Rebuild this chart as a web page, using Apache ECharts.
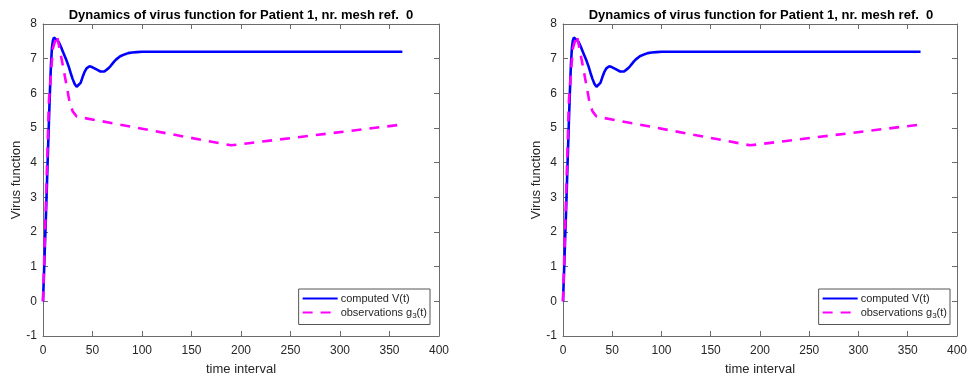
<!DOCTYPE html>
<html>
<head>
<meta charset="utf-8">
<script src="https://cdn.jsdelivr.net/npm/echarts@6/dist/echarts.min.js"></script>
<style>
  html, body { margin: 0; padding: 0; background: #fff; }
  #chart { width: 970px; height: 381px; }
</style>
</head>
<body>
<div id="chart"></div>
<script>
// Computed virus function V(t)
const timeComputed = [0, 1, 2, 3, 4, 5, 6, 7, 8, 9, 10, 11, 12, 13, 14,
  16, 18, 20, 22, 24, 26, 28, 30, 32, 34,
  35, 36, 38, 40, 42, 44, 46, 47, 48, 50,
  52, 54, 56, 58, 60, 62, 64, 66, 68, 70,
  72, 74, 76, 78, 80, 83, 86, 90, 95, 100, 363];
const virusComputed = [0, 0.8, 1.65, 2.5, 3.4, 4.3, 5.2, 6.05, 6.8, 7.3, 7.52, 7.61, 7.63, 7.6, 7.54,
  7.47, 7.35, 7.21, 7.07, 6.93, 6.77, 6.58, 6.41, 6.27, 6.19,
  6.17, 6.18, 6.3, 6.47, 6.62, 6.72, 6.77, 6.78, 6.77, 6.75,
  6.72, 6.69, 6.65, 6.63, 6.62, 6.63, 6.67, 6.72, 6.78, 6.85,
  6.92, 6.98, 7.03, 7.07, 7.1, 7.13, 7.16, 7.18, 7.19, 7.2, 7.2];

// Observations g3(t)
const timeObserved = [0, 6, 10, 14, 19, 24, 27, 30, 34, 190, 363];
const virusObserved = [0, 5.8, 7.3, 7.68, 6.96, 6.2, 5.72, 5.48, 5.33, 4.5, 5.1];

const xRange = { min: 0, max: 400, interval: 50 };
const yRange = { min: -1, max: 8, interval: 1 };

const titleText = 'Dynamics of virus function for Patient 1, nr. mesh ref.  0';
const xName = 'time interval';
const yName = 'Virus function';
const nameComputed = 'computed V(t)';
const nameObserved = 'observations g3(t)';

const FONT = '"Liberation Sans", Arial, Helvetica, sans-serif';
const TEXT = '#262626';
const LINE = '#6b6b6b';

const grids = [
  { left: 43, top: 24, width: 396, height: 312 },
  { left: 563, top: 24, width: 396, height: 312 }
];

const pairs = (xs, ys) => xs.map((x, i) => [x, ys[i]]);

const option = {
  animation: false,
  backgroundColor: '#fff',
  textStyle: { fontFamily: FONT },
  title: [], grid: grids, xAxis: [], yAxis: [], legend: [], series: []
};

grids.forEach((g, k) => {
  option.title.push({
    text: titleText,
    left: g.left + g.width / 2,
    top: 9,
    padding: 0,
    textAlign: 'center',
    textStyle: { fontFamily: FONT, fontSize: 13, fontWeight: 'bold', color: '#000' }
  });

  const tick = { show: true, inside: true, length: 5, lineStyle: { color: LINE, width: 1 } };
  const line = { show: true, onZero: false, lineStyle: { color: LINE, width: 1 } };

  // bottom + top x axes
  option.xAxis.push({
    type: 'value', gridIndex: k, position: 'bottom', ...xRange,
    axisLine: line, axisTick: tick, splitLine: { show: false },
    axisLabel: { color: TEXT, fontSize: 12, fontFamily: FONT, margin: 9 },
    name: xName, nameLocation: 'middle', nameGap: 27,
    nameTextStyle: { color: TEXT, fontSize: 13, fontFamily: FONT }
  });
  option.xAxis.push({
    type: 'value', gridIndex: k, position: 'top', ...xRange,
    axisLine: line, axisTick: tick, splitLine: { show: false },
    axisLabel: { show: false }
  });
  // left + right y axes
  option.yAxis.push({
    type: 'value', gridIndex: k, position: 'left', ...yRange,
    axisLine: line, axisTick: tick, splitLine: { show: false },
    axisLabel: { color: TEXT, fontSize: 12, fontFamily: FONT, margin: 6 },
    name: yName, nameLocation: 'middle', nameGap: 20,
    nameTextStyle: { color: TEXT, fontSize: 13, fontFamily: FONT }
  });
  option.yAxis.push({
    type: 'value', gridIndex: k, position: 'right', ...yRange,
    axisLine: line, axisTick: tick, splitLine: { show: false },
    axisLabel: { show: false }
  });

  option.series.push({
    name: nameComputed, type: 'line',
    xAxisIndex: 2 * k, yAxisIndex: 2 * k,
    data: pairs(timeComputed, virusComputed),
    showSymbol: false, symbol: 'none',
    lineStyle: { color: '#0000ff', width: 2.6 },
    itemStyle: { color: '#0000ff' },
    z: 2
  });
  option.series.push({
    name: nameObserved, type: 'line',
    xAxisIndex: 2 * k, yAxisIndex: 2 * k,
    data: pairs(timeObserved, virusObserved),
    showSymbol: false, symbol: 'none',
    lineStyle: { color: '#ff00ff', width: 2.6, type: [10, 8] },
    itemStyle: { color: '#ff00ff' },
    z: 3
  });

  option.legend.push({
    data: [nameComputed, nameObserved],
    orient: 'vertical',
    right: 970 - (g.left + g.width) + 9,
    top: 289,
    backgroundColor: '#fff',
    borderColor: '#555',
    borderWidth: 1,
    borderRadius: 0,
    padding: [4, 3, 5, 3],
    itemWidth: 35,
    itemHeight: 12,
    itemGap: 3,
    selectedMode: false,
    // line-only keys: hide the marker drawn on the key line
    itemStyle: { opacity: 0 },
    formatter: name => name === nameObserved ? 'observations g{sub|3}(t)' : name,
    textStyle: {
      color: TEXT, fontSize: 11, fontFamily: FONT, padding: [0, 0, 0, -2],
      rich: { sub: { fontSize: 8, fontFamily: FONT, color: TEXT, padding: [6, 0, 0, 0] } }
    }
  });
});

const chart = echarts.init(document.getElementById('chart'), null, { renderer: 'canvas' });
chart.setOption(option);
</script>
</body>
</html>
